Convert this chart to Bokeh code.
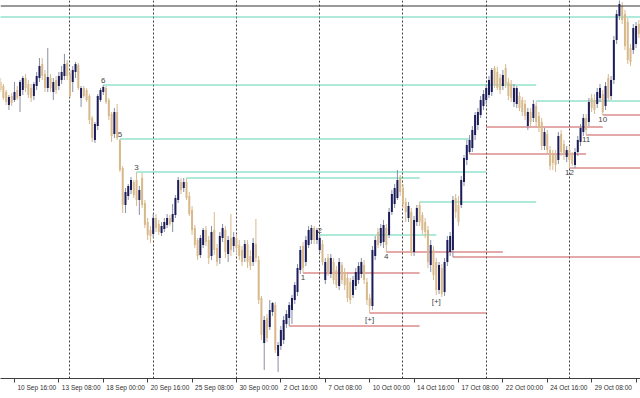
from bokeh.plotting import figure
from bokeh.models import Range1d, FixedTicker, Span, ColumnDataSource
from bokeh.embed import file_html
from bokeh.resources import INLINE
from bokeh.core.properties import value

# ---- H4 candles (price in chart points), bar 0 = 9 Sep 20:00 ----
opens = [318,314,308,295,304,300,310,304,310,322, 316,312,304,314,322,336,326,312,322,308,
         320,314,320,324,337,326,318,328,335,302, 312,310,304,282,260,274,300,308,312,300,
         286,266,288,260,232,195,204,210,218,220, 200,222,197,178,170,166,182,176,167,171,
         175,182,178,185,200,218,212,218,204,190, 172,160,145,155,170,160,144,170,152,142,
         162,170,146,162,154,162,155,150,142,156, 144,138,156,140,102,57,82,73,88,95,
         44,54,60,76,82,90,100,108,130,154, 138,155,160,172,160,150,156,120,142,126,
         138,130,114,135,128,122,118,105,114,120, 126,135,118,102,94,144,168,157,158,172,
         165,188,196,202,222,212,198,182,188,148, 178,195,185,178,170,135,150,138,110,132,
         108,138,148,150,202,195,195,218,240,248, 252,265,275,285,294,300,305,308,332,328,
         322,314,332,318,316,298,296,304,300,296, 274,288,282,294,284,278,254,266,250,245,
         245,240,266,256,243,250,245,235,248,258, 268,282,278,302,300,296,302,306,294,322,
         304,320,360,384,394,386,378,352,350,356, 376]
highs = [322,316,310,305,307,318,314,320,324,326, 320,316,318,328,342,342,330,352,326,322,
         324,328,334,346,340,330,334,338,337,314, 314,312,306,284,278,306,312,315,314,302,
         288,292,296,261,234,212,216,223,220,228, 214,227,200,182,174,186,186,180,178,182,
         186,185,196,205,223,222,222,222,208,194, 175,162,165,172,174,164,174,188,156,168,
         176,174,164,186,168,166,160,154,160,160, 150,162,181,144,104,84,86,100,98,98,
         58,74,84,90,98,105,118,136,154,158, 164,174,175,174,172,165,160,142,146,146,
         142,134,142,138,132,126,122,124,132,138, 142,140,122,106,154,164,172,176,180,176,
         192,210,216,230,225,216,202,198,192,184, 195,198,188,182,174,160,154,142,138,136,
         142,164,168,204,206,204,224,245,260,265, 274,288,292,304,310,316,324,332,334,333,
         326,330,336,322,320,316,314,308,303,300, 292,292,300,298,288,282,272,270,254,250,
         250,268,270,260,254,254,248,252,264,276, 286,286,302,306,306,312,316,310,318,326,
         324,364,390,400,398,390,382,356,376,378, 380]
lows = [308,300,295,290,294,298,300,288,305,308, 302,298,300,310,318,320,308,308,308,300,
        306,310,316,320,320,302,308,322,310,293, 302,298,276,258,257,270,298,305,296,280,
        258,262,260,228,187,187,200,206,202,194, 185,192,172,160,157,162,168,165,164,168,
        172,174,168,182,197,206,208,200,184,165, 152,140,142,152,154,136,140,145,134,136,
        158,142,138,144,148,146,140,134,138,132, 130,134,138,96,60,30,58,70,84,47,
        28,50,56,72,74,76,96,104,126,127, 134,152,156,156,156,147,135,116,124,122,
        116,112,110,116,110,98,96,102,110,116, 122,116,95,87,90,140,152,154,152,148,
        162,185,192,200,204,192,178,178,144,144, 174,174,166,162,132,128,120,105,106,103,
        104,134,144,143,182,174,192,214,235,246, 248,260,270,282,290,296,302,304,312,310,
        306,310,312,300,298,293,292,289,284,280, 270,274,278,274,268,250,250,247,230,230,
        228,236,244,240,238,232,234,232,244,254, 264,265,274,288,286,292,298,285,290,299,
        300,316,356,380,376,350,336,334,346,352, 362]
closes = [310,302,298,303,297,308,302,318,322,312, 305,302,316,324,334,324,312,323,312,318,
          310,324,328,336,324,304,330,336,312,312, 304,300,280,262,276,304,310,313,298,284,
          264,288,262,230,195,208,214,220,205,200, 210,195,175,165,164,182,172,168,174,178,
          182,176,186,202,220,210,218,202,186,170, 155,144,162,170,158,142,168,150,138,164,
          172,148,160,150,163,152,144,138,156,138, 134,157,142,100,65,80,62,90,97,50,
          55,70,80,86,95,102,115,132,150,132, 160,170,172,160,170,162,138,138,128,142,
          120,115,138,120,115,102,100,120,128,134, 138,120,100,94,150,160,155,172,175,155,
          188,206,212,220,208,196,188,194,148,180, 192,178,170,168,138,155,125,110,135,106,
          138,160,164,200,188,178,220,242,255,260, 270,285,288,300,306,312,320,330,315,312,
          310,325,316,304,302,312,312,292,288,284, 288,278,296,278,272,254,268,250,234,237,
          235,264,248,246,250,240,236,248,260,272, 282,270,298,292,290,308,312,288,314,302,
          320,360,386,396,380,354,340,338,372,374, 366]

# ---- time scale ----
tick_bars = [5, 21, 37, 53, 69, 85, 101, 117, 133, 149, 165, 181, 197, 213, 229]
tick_labels = ["10 Sep 16:00", "13 Sep 08:00", "18 Sep 00:00", "20 Sep 16:00",
               "25 Sep 08:00", "30 Sep 00:00", "2 Oct 16:00", "7 Oct 08:00",
               "10 Oct 00:00", "14 Oct 16:00", "17 Oct 08:00", "22 Oct 00:00",
               "24 Oct 16:00", "29 Oct 08:00", "1 Nov 00:00"]
week_bars = [25, 55, 85, 115, 145, 175, 205]

# ---- support / resistance levels (price, first bar, last bar) ----
res_levels = [383, 315, 261, 228, 222, 198, 165, 299]
res_start = [-1, 37, 43, 49, 67, 151, 115, 193]
res_end = [232, 193, 169, 175, 151, 193, 157, 232]
sup_levels = [127, 74, 87, 148, 143, 246, 273, 265, 232, 285]
sup_start = [109, 104, 133, 139, 163, 169, 175, 211, 205, 217]
sup_end = [151, 151, 175, 181, 232, 211, 217, 232, 232, 232]
frame_top_price = 394

# ---- swing marks ----
top_mark_bars = [37, 43, 49, 115]
top_mark_text = ["6", "5", "3", "2"]
low_mark_bars = [109, 139, 133, 157, 217, 211, 205]
low_mark_text = ["1", "4", "[+]", "[+]", "10", "11", "12"]

BULL = "#1c1c5a"
BULL_WICK = "#8990a6"
BEAR = "#d8b98c"
GREEN = "#5fd3b4"
RED = "#c85454"

W, H = 640, 398
X0, X1 = -0.036, 230.6
Y0, Y1 = 21.5, 399.5
p = figure(width=W, height=H, x_range=Range1d(X0, X1), y_range=Range1d(Y0, Y1),
           output_backend="svg", toolbar_location=None, y_axis_location=None,
           min_border_left=0, min_border_right=0, min_border_top=0, min_border_bottom=20)
p.outline_line_color = None
p.background_fill_color = "white"
p.border_fill_color = "white"
p.ygrid.visible = False
g = p.xgrid[0]
g.ticker = FixedTicker(ticks=week_bars)
g.grid_line_color = "#3c3c3c"
g.grid_line_dash = "2 2"
g.grid_line_width = 1

# Terminal-style time scale: the tick mark sits on the bar, the text starts just right of it.
# Minor ticks draw the marks; invisible major ticks carry the centred texts.
LABEL_PX = 6.5
char_w = {" ": 0.278, ":": 0.278, "S": 0.667, "e": 0.556, "p": 0.556, "O": 0.778,
          "c": 0.5, "t": 0.278, "N": 0.722, "o": 0.556, "v": 0.5}
px_per_bar = W / (X1 - X0)
def text_w(s):
    return sum(char_w.get(ch, 0.556) for ch in s) * LABEL_PX
label_pos = [b + (3 + text_w(t) / 2) / px_per_bar for b, t in zip(tick_bars, tick_labels)]

ax = p.xaxis[0]
ax.ticker = FixedTicker(ticks=label_pos, minor_ticks=tick_bars)
ax.major_label_overrides = {pos: t for pos, t in zip(label_pos, tick_labels)}
ax.major_label_text_font = "Liberation Sans"
ax.major_label_text_font_size = f"{LABEL_PX}px"
ax.major_label_text_color = "#303030"
ax.major_label_standoff = 1
ax.major_tick_in = 0
ax.major_tick_out = 4
ax.major_tick_line_color = None
ax.minor_tick_in = 0
ax.minor_tick_out = 4
ax.minor_tick_line_color = "#404040"
ax.axis_line_color = "#404040"

p.add_layout(Span(location=frame_top_price, dimension="width", line_color="#353535", line_width=1))

p.segment(x0=res_start, y0=res_levels, x1=res_end, y1=res_levels, line_color=GREEN, line_width=1)
p.segment(x0=sup_start, y0=sup_levels, x1=sup_end, y1=sup_levels, line_color=RED, line_width=1)

idx = list(range(len(opens)))
bull = [c >= o for o, c in zip(opens, closes)]
src = ColumnDataSource(dict(
    x=idx,
    top=[max(o, c) for o, c in zip(opens, closes)],
    bottom=[min(o, c) for o, c in zip(opens, closes)],
    high=highs, low=lows,
    body=[BULL if b else BEAR for b in bull],
    wick=[BULL_WICK if b else BEAR for b in bull],
))
p.segment(x0="x", y0="low", x1="x", y1="high", line_color="wick", line_width=1, source=src)
p.vbar(x="x", width=0.72, top="top", bottom="bottom", fill_color="body", line_color=None, source=src)

p.text(x=top_mark_bars, y=[highs[i] for i in top_mark_bars], text=top_mark_text,
       text_font=value("Liberation Sans"), text_font_size="8px", text_color="#454545",
       text_align="center", text_baseline="bottom", y_offset=-2)
p.text(x=low_mark_bars, y=[lows[i] for i in low_mark_bars], text=low_mark_text,
       text_font=value("Liberation Sans"), text_font_size="8px", text_color="#454545",
       text_align="center", text_baseline="top", y_offset=2)

open("out.html", "w").write(file_html(p, INLINE))
